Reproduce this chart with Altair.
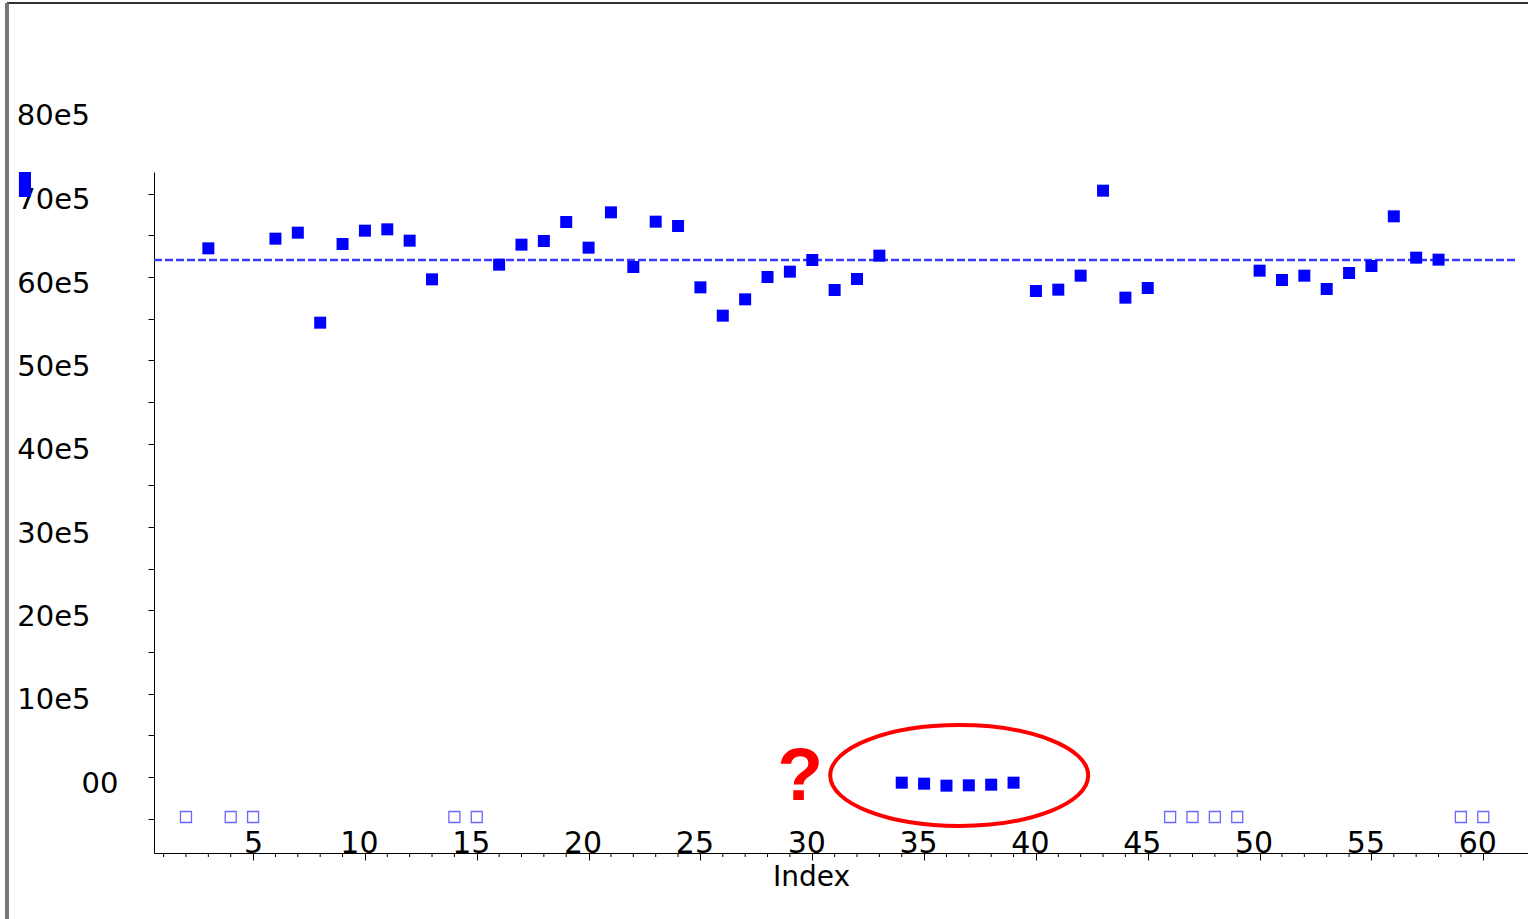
import altair as alt
import pandas as pd

# Observed series: position in sequence and measured value
obs_index = [3, 6, 7, 8, 9, 10, 11, 12, 13,
             16, 17, 18, 19, 20, 21, 22, 23, 24, 25, 26, 27, 28, 29, 30, 31, 32, 33,
             34, 35, 36, 37, 38, 39,
             40, 41, 42, 43, 44, 45,
             50, 51, 52, 53, 54, 55, 56, 57, 58]
obs_value = [641600, 653200, 660400, 552400, 646800, 662800, 664400, 650800, 604400,
             622000, 646000, 650400, 673200, 642400, 684800, 619200, 673600, 668400,
             594800, 560800, 580400, 607200, 613600, 627600, 591600, 604800, 632800,
             400, -800, -3200, -2800, -2000, 400,
             590400, 592000, 608800, 710800, 582400, 594000,
             614800, 603600, 608800, 592800, 612000, 620400, 680000, 630400, 628000]

# Positions with no recorded value (drawn as open squares under the zero line)
missing_index = [2, 4, 5, 14, 15, 46, 47, 48, 49, 59, 60]
missing_level = -40800

# Reference level of the series
mean_value = 627600
mean_span = [0.57, 61.5]

# Suspicious run of zeros: highlight ellipse and question mark
flag_center = [36.57, 9000]
flag_mark = [29.46, -20400]

# Stray marker near the top-left corner
stray_x = [-5.47, -4.93]
stray_y = [703200, 733200]

# Axis settings
x_domain = [0.57, 62.0]
y_domain = [-84000, 733200]
x_major = [5, 10, 15, 20, 25, 30, 35, 40, 45, 50, 55, 60]
x_minor = [i for i in range(1, 61) if i % 5 != 0]
y_ticks = list(range(-50000, 700001, 50000))
y_extra_label = [800000, "80e5"]

W, H = 1374, 681

obs_df = pd.DataFrame({"index": obs_index, "value": obs_value})
miss_df = pd.DataFrame({"index": missing_index, "value": [missing_level] * len(missing_index)})
mean_df = pd.DataFrame({"index": [mean_span[0]], "index2": [mean_span[1]], "value": [mean_value]})
flag_df = pd.DataFrame({"index": [flag_center[0]], "value": [flag_center[1]]})
qmark_df = pd.DataFrame({"index": [flag_mark[0]], "value": [flag_mark[1]], "t": ["?"]})
stray_df = pd.DataFrame({"index": [stray_x[0]], "index2": [stray_x[1]],
                         "value": [stray_y[0]], "value2": [stray_y[1]]})
extra_df = pd.DataFrame({"value": [y_extra_label[0]], "t": [y_extra_label[1]]})
minor_df = pd.DataFrame({"index": x_minor})

x_axis = alt.Axis(
    values=x_major,
    tickSize=7,
    labelOffset={"condition": {"test": "datum.value < 10", "value": 0}, "value": -6},
    labelPadding=-8,
    labelBaseline="alphabetic",
    labelFont="DejaVu Sans",
    labelFontSize=30,
    labelColor="black",
    labelFlush=False,
    labelOverlap=False,
    grid=False,
    domainColor="black",
    tickColor="black",
    title="Index",
    titleFont="DejaVu Sans",
    titleFontSize=28,
    titleFontWeight="normal",
    titleColor="black",
    titleX=657,
    titleY=32,
    titleAlign="center",
    titleBaseline="alphabetic",
)

y_axis = alt.Axis(
    values=y_ticks,
    labelExpr="datum.value % 100000 === 0 ? (datum.value === 0 ? '00' : (datum.value / 100000) + '0e5') : ''",
    tickSize=6,
    tickOffset=-6,
    labelOffset=6,
    labelPadding={"condition": {"test": "datum.value === 0", "value": 30}, "value": 58},
    labelBaseline="middle",
    labelFont="DejaVu Sans",
    labelFontSize=29,
    labelColor="black",
    labelFlush=False,
    labelOverlap=False,
    grid=False,
    domainColor="black",
    tickColor="black",
    title=None,
)

xs = alt.Scale(domain=x_domain, nice=False, zero=False)
ys = alt.Scale(domain=y_domain, nice=False, zero=False)

points = alt.Chart(obs_df).mark_point(
    shape="square", filled=True, size=144, color="#0000ff", opacity=1
).encode(
    x=alt.X("index:Q", scale=xs, axis=x_axis),
    y=alt.Y("value:Q", scale=ys, axis=y_axis),
)

# Unit ticks between the labelled ones on the x axis
minor_ticks = alt.Chart(minor_df).mark_rule(color="black", strokeWidth=1).encode(
    x="index:Q", y=alt.value(H), y2=alt.value(H + 4)
)

missing = alt.Chart(miss_df).mark_point(
    shape="square", filled=False, size=121, color="#2b2bff", strokeWidth=1.3
).encode(x="index:Q", y="value:Q")

mean_rule = alt.Chart(mean_df).mark_rule(
    color="#3a3aff", strokeWidth=2.6, strokeDash=[8, 3]
).encode(x="index:Q", x2="index2:Q", y="value:Q")

ellipse_path = "M-1,0A1,0.391 0 1,1 1,0A1,0.391 0 1,1 -1,0Z"
flag = alt.Chart(flag_df).mark_point(
    shape=ellipse_path, size=258 * 258, filled=False, color="#ff0000", strokeWidth=4, opacity=1
).encode(x="index:Q", y="value:Q")

qmark = alt.Chart(qmark_df).mark_text(
    font="Liberation Sans", fontWeight="bold", fontSize=75, color="#ff0000",
    align="center", baseline="alphabetic"
).encode(x="index:Q", y="value:Q", text="t:N")

stray = alt.Chart(stray_df).mark_rect(color="#0000ff").encode(
    x="index:Q", x2="index2:Q", y="value:Q", y2="value2:Q"
)

extra_label = alt.Chart(extra_df).mark_text(
    font="DejaVu Sans", fontSize=29, color="black", align="right", baseline="middle"
).encode(x=alt.value(-64), y="value:Q", text="t:N")

# Outer frame: top edge and left edge of the figure
frame_top = alt.Chart(obs_df).mark_rule(color="#333333", strokeWidth=1.5).encode(
    x=alt.value(-147), x2=alt.value(W), y=alt.value(-169)
)
frame_left = alt.Chart(obs_df).mark_rule(color="#777777", strokeWidth=2.2).encode(
    x=alt.value(-147), y=alt.value(-169), y2=alt.value(747)
)

chart = alt.layer(
    frame_top, frame_left, minor_ticks, mean_rule, flag, qmark, missing, stray, points, extra_label
).properties(
    width=W, height=H,
    autosize=alt.AutoSizeParams(type="none"),
    padding={"left": 154, "top": 172, "right": 0, "bottom": 66},
    background="white",
).configure_view(stroke=None)

chart.save("out.html", embed_options={"renderer": "svg", "actions": False})
